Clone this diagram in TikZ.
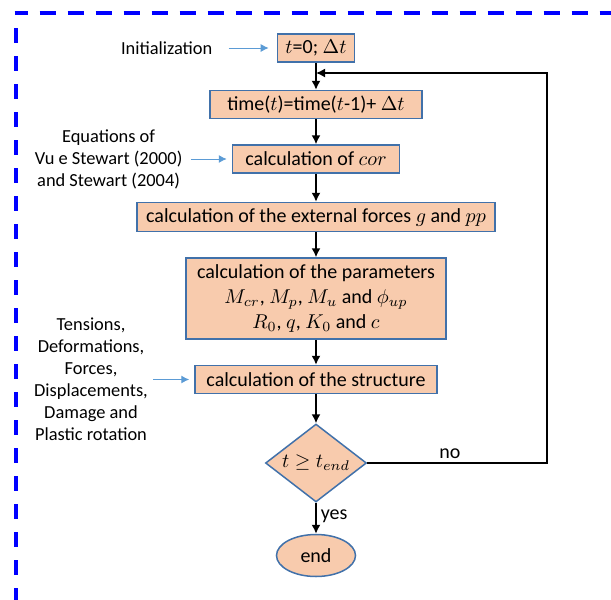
\documentclass[tikz,border=0pt]{standalone}
\usepackage{fontspec}
\setmainfont{Carlito}
\usetikzlibrary{shapes.geometric,arrows.meta,positioning}
\usepackage{xcolor}
\usepackage{amsmath}
\usepackage{amssymb}
\definecolor{boxfill}{RGB}{248,203,173}
\definecolor{boxline}{RGB}{65,113,170}
\definecolor{notearrow}{RGB}{91,155,213}

\begin{document}
\begin{tikzpicture}[x=0.5pt, y=-0.5pt,
  stepbox/.style={draw=boxline, fill=boxfill, line width=0.75pt, minimum height=14pt, inner xsep=4pt, inner ysep=2pt, align=center, font=\fontsize{10}{12.5}\selectfont},
  decision/.style={diamond, draw=boxline, fill=boxfill, line width=0.75pt, aspect=1.3, inner sep=0pt, minimum width=50.5pt, minimum height=39pt, font=\fontsize{10}{12}\selectfont},
  stopnode/.style={ellipse, draw=boxline, fill=boxfill, line width=0.75pt, inner sep=0pt, minimum width=39.5pt, minimum height=21pt, font=\fontsize{10}{12}\selectfont},
  notetext/.style={align=center, inner sep=0pt, font=\fontsize{9.2}{11}\selectfont},
  arr/.style={-{Latex[length=4.5pt,width=4.5pt]}, line width=0.75pt},
  notearr/.style={-{Latex[length=4pt,width=4pt]}, draw=notearrow, line width=0.5pt},
  frame/.style={draw=blue, line width=1.65pt}
]
\useasboundingbox (0,0) rectangle (611,600);
% dashed frame
\draw[frame, dash pattern=on 8pt off 6pt, dash phase=1.5pt] (14.5,13) -- (611,13);
\draw[frame, dash pattern=on 7.5pt off 6.5pt] (16,28) -- (16,600);

% main column
\node[stepbox, minimum width=36pt] (init) at (316,48) {$t$=0; $\Delta t$};
\node[stepbox, minimum width=106pt, below=13.5pt of init] (time) {time($t$)=time($t$-1)+ $\Delta t$};
\node[stepbox, minimum width=83.5pt, below=12.5pt of time] (cor) {calculation of $cor$};
\node[stepbox, minimum width=179pt, minimum height=14.5pt, below=14pt of cor] (ext) {calculation of the external forces $g$ and $pp$};
\node[stepbox, minimum width=130pt, minimum height=40.5pt, below=12.5pt of ext] (param) {calculation of the parameters\\$M_{cr}$, $M_p$, $M_u$ and $\phi_{up}$\\$R_0$, $q$, $K_0$ and $c$};
\node[stepbox, minimum width=121pt, below=12.5pt of param] (struct) {calculation of the structure};
\node[decision, below=14.5pt of struct] (test) {$t \geq t_{end}$};
\node[stopnode, below=15.5pt of test] (stop) {end};

% notes on the left
\node[notetext, left=32pt of init] (initlbl) {Initialization};
\node[notetext, left=24.5pt of cor] (eqlbl) {Equations of\\Vu e Stewart (2000)\\and Stewart (2004)};
\node[notetext, left=23pt of struct] (outlbl) {Tensions,\\Deformations,\\Forces,\\Displacements,\\Damage and\\Plastic rotation};
\draw[notearr, shorten <=8pt, shorten >=4pt] (initlbl) -- (init);
\draw[notearr, shorten <=4pt, shorten >=2.5pt] (eqlbl) -- (cor);
\draw[notearr, shorten <=2.5pt, shorten >=2.5pt] (outlbl) -- (struct);

% flow
\draw[arr] (init) -- (time);
\draw[arr] (time) -- (cor);
\draw[arr] (cor) -- (ext);
\draw[arr] (ext) -- (param);
\draw[arr] (param) -- (struct);
\draw[arr] (struct) -- (test);
\draw[arr] (test) -- node[right, pos=.45, inner sep=2pt, font=\fontsize{10}{12}\selectfont] {yes} (stop);

% loop back
\coordinate (loopbr) at (547,0 |- test.east);
\coordinate (looptr) at (547,73);
\coordinate (loopin) at (init.south |- looptr);
\draw[arr] (test.east) -- node[above, pos=.46, inner sep=2pt, font=\fontsize{10}{12}\selectfont] {no} (loopbr) -- (looptr) -- (loopin);
\end{tikzpicture}
\end{document}
